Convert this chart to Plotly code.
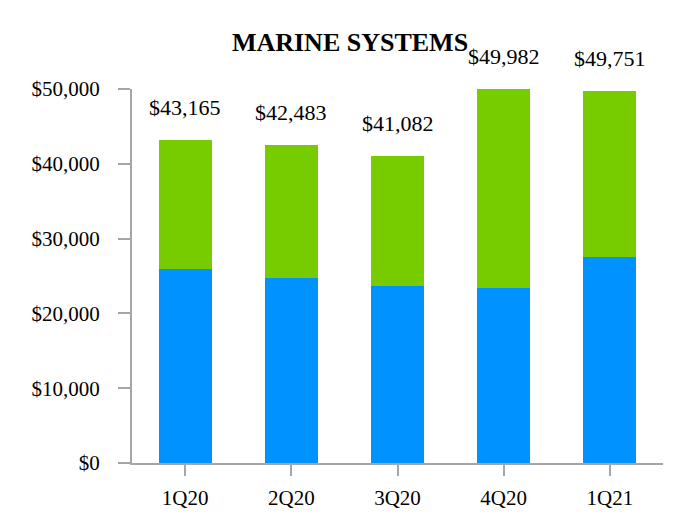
import plotly.graph_objects as go

quarters = ["1Q20", "2Q20", "3Q20", "4Q20", "1Q21"]
totals = [43165, 42483, 41082, 49982, 49751]
blue_vals = [25900, 24800, 23700, 23400, 27600]
green_vals = [t - b for t, b in zip(totals, blue_vals)]
total_labels = ["$43,165", "$42,483", "$41,082", "$49,982", "$49,751"]

FONT = "Liberation Serif, Times New Roman, serif"
AXIS_COLOR = "#a6a6a6"

fig = go.Figure()
fig.add_trace(go.Bar(x=quarters, y=blue_vals, marker=dict(color="#0092FF", line=dict(width=0)),
                     showlegend=False, hoverinfo="skip"))
fig.add_trace(go.Bar(x=quarters, y=green_vals, marker=dict(color="#77CC00", line=dict(width=0)),
                     showlegend=False, hoverinfo="skip"))

for q, t, lab in zip(quarters, totals, total_labels):
    fig.add_annotation(x=q, y=t, text=lab, showarrow=False, xanchor="center", yanchor="bottom",
                       yshift=18, font=dict(family=FONT, size=22, color="#000"))

fig.update_layout(
    barmode="stack",
    bargap=0.5,
    width=684, height=524,
    margin=dict(l=124, r=29, t=81, b=69),
    paper_bgcolor="white", plot_bgcolor="white",
    font=dict(family=FONT, size=21, color="#000"),
    title=dict(text="<b>MARINE SYSTEMS</b>", x=0.5, xanchor="center", y=0.935, yanchor="middle",
               font=dict(family=FONT, size=26, color="#000")),
    xaxis=dict(showline=True, linecolor=AXIS_COLOR, linewidth=2, ticks="outside", ticklen=11,
               tickcolor=AXIS_COLOR, tickwidth=2, showgrid=False, range=[-0.5, 4.5],
               tickfont=dict(family=FONT, size=21), ticklabelstandoff=4),
    yaxis=dict(showline=True, linecolor=AXIS_COLOR, linewidth=2, ticks="outside", ticklen=12,
               tickcolor=AXIS_COLOR, tickwidth=2, showgrid=False, range=[0, 50000],
               tickvals=[0, 10000, 20000, 30000, 40000, 50000],
               ticktext=["$0", "$10,000", "$20,000", "$30,000", "$40,000", "$50,000"],
               tickfont=dict(family=FONT, size=21), zeroline=False, ticklabelstandoff=14),
)

fig.write_html("out.html")
